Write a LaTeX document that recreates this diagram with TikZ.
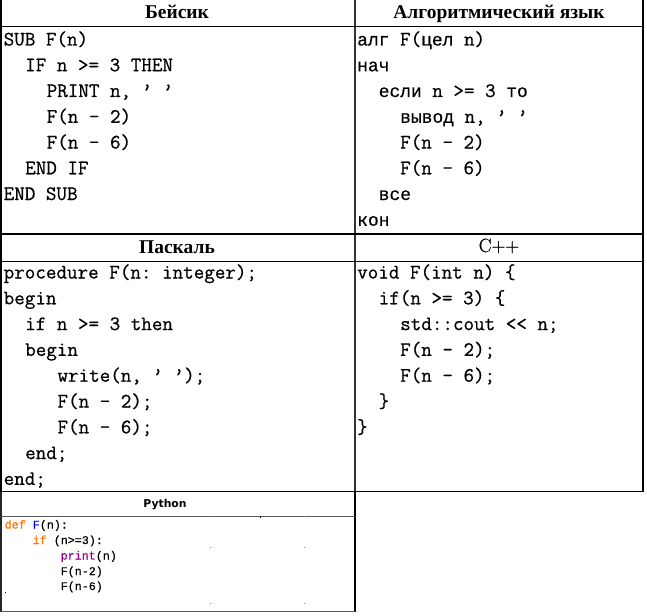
\documentclass[tikz,border=0pt]{standalone}
\usepackage{fontspec}
\setmonofont{Latin Modern Mono}[FakeBold=0.7]
\newfontfamily\hdrfont{Liberation Serif}
\newfontfamily\cppfont{Latin Modern Roman}[FakeBold=0.8]
\newfontfamily\cyrtt{Liberation Mono}[Scale=0.875,FakeBold=0.5]
\newfontfamily\pyfont{Liberation Mono}[FakeBold=0.5]
\newfontfamily\pyhdr{DejaVu Sans}
\newcommand\ct[1]{{\cyrtt #1}}
\definecolor{pykw}{HTML}{FF7700}
\definecolor{pyfn}{HTML}{0000FF}
\definecolor{pybi}{HTML}{900090}
\begin{document}
\begin{tikzpicture}[x=1pt,y=-1pt,
  code/.style={anchor=base west,inner sep=0pt,font=\fontsize{20.5}{24}\selectfont\ttfamily},
  hdr/.style={anchor=base,inner sep=0pt,font=\fontsize{19.5}{24}\selectfont\hdrfont\bfseries},
  hdrc/.style={anchor=base,inner sep=0pt,font=\fontsize{19.2}{24}\selectfont\cppfont},
  py/.style={anchor=base west,inner sep=0pt,font=\fontsize{11.7}{14}\selectfont\pyfont},
  pyh/.style={anchor=base,inner sep=0pt,font=\fontsize{10.8}{13}\selectfont\pyhdr\bfseries},
  rulebold/.style={line width=1.4pt,black},
  rulethin/.style={line width=1pt,black!65},
  speck/.style={fill=black!45}]
\useasboundingbox (0,0) rectangle (647,615);
\fill[white] (0,0) rectangle (647,615);
% ---- table rules
\draw[rulebold] (1,0) -- (1,491.5);
\draw[rulebold] (643,0) -- (643,491.5);
\draw[line width=1.2pt,black!80] (355,0) -- (355,491.5);
\draw[rulebold] (0,26.5) -- (643,26.5);
\draw[rulebold] (0,234) -- (643,234);
\draw[rulebold] (0,261.5) -- (643,261.5);
\draw[rulebold] (0,491.5) -- (643,491.5);
% ---- python box
\draw[line width=1.2pt,black!85] (1,491.5) -- (1,612);
\draw[line width=1.2pt,black] (355,491.5) -- (355,612);
\draw[rulethin] (1,516.5) -- (355,516.5);
\draw[rulethin] (1,611) -- (355,611);
% ---- headers
\node[hdr] (hb) at (177,18.3) {Бейсик};
\node[hdr] (ha) at (499,18.3) {Алгоритмический язык};
\node[hdr] (hp) at (177,253) {Паскаль};
\node[hdrc] (hc) at (499,252) {C++};
\node[pyh] (hpy) at (165,507.5) {Python};
% ---- Basic
\node[code] (b1) at (3.5,45.5) {SUB F(n)};
\node[code] (b2) at (25,71.25) {IF n >= 3 THEN};
\node[code] (b3) at (46.5,97) {PRINT n, ’ ’};
\node[code] (b4) at (46.5,122.75) {F(n - 2)};
\node[code] (b5) at (46.5,148.5) {F(n - 6)};
\node[code] (b6) at (25,174.25) {END IF};
\node[code] (b7) at (3.5,200) {END SUB};
% ---- Algorithmic language
\node[code] (a1) at (357,45.5) {\ct{алг} F(\ct{цел} n)};
\node[code] (a2) at (357,71.25) {\ct{нач}};
\node[code] (a3) at (378.5,97) {\ct{если} n >= 3 \ct{то}};
\node[code] (a4) at (400,122.75) {\ct{вывод} n, ’ ’};
\node[code] (a5) at (400,148.5) {F(n - 2)};
\node[code] (a6) at (400,174.25) {F(n - 6)};
\node[code] (a7) at (378.5,200) {\ct{все}};
\node[code] (a8) at (357,225.75) {\ct{кон}};
% ---- Pascal
\node[code] (p1) at (3.5,278.5) {procedure F(n: integer);};
\node[code] (p2) at (3.5,304.3) {begin};
\node[code] (p3) at (25,330.1) {if n >= 3 then};
\node[code] (p4) at (25,355.9) {begin};
\node[code] (p5) at (57.3,381.7) {write(n, ’ ’);};
\node[code] (p6) at (57.3,407.5) {F(n - 2);};
\node[code] (p7) at (57.3,433.3) {F(n - 6);};
\node[code] (p8) at (25,459.1) {end;};
\node[code] (p9) at (3.5,484.9) {end;};
% ---- C++
\node[code] (c1) at (357,278.5) {void F(int n) \{};
\node[code] (c2) at (378.5,304.3) {if(n >= 3) \{};
\node[code] (c3) at (400,330.1) {std::cout << n;};
\node[code] (c4) at (400,355.9) {F(n - 2);};
\node[code] (c5) at (400,381.7) {F(n - 6);};
\node[code] (c6) at (378.5,407.5) {\}};
\node[code] (c7) at (357,433.3) {\}};
% ---- Python
\node[py] (y1) at (4.5,528.5) {\textcolor{pykw}{def} \textcolor{pyfn}{F}(n):};
\node[py] (y2) at (32.5,544) {\textcolor{pykw}{if} (n>=3):};
\node[py] (y3) at (60.5,559.5) {\textcolor{pybi}{print}(n)};
\node[py] (y4) at (60.5,575) {F(n-2)};
\node[py] (y5) at (60.5,590) {F(n-6)};
% ---- specks
\fill[speck] (209.5,515.5) rectangle +(1,1);
\fill[black] (259.5,515.5) rectangle +(1,2);
\fill[speck] (303.5,515.5) rectangle +(1,1);
\fill[speck] (209.5,546.5) rectangle +(1,1);
\fill[speck] (303.5,546.5) rectangle +(1,1);
\fill[speck] (209.5,602.5) rectangle +(1,1);
\fill[speck] (303.5,602.5) rectangle +(1,1);
\fill[black] (4.5,591.5) rectangle +(1,1);
\end{tikzpicture}
\end{document}
